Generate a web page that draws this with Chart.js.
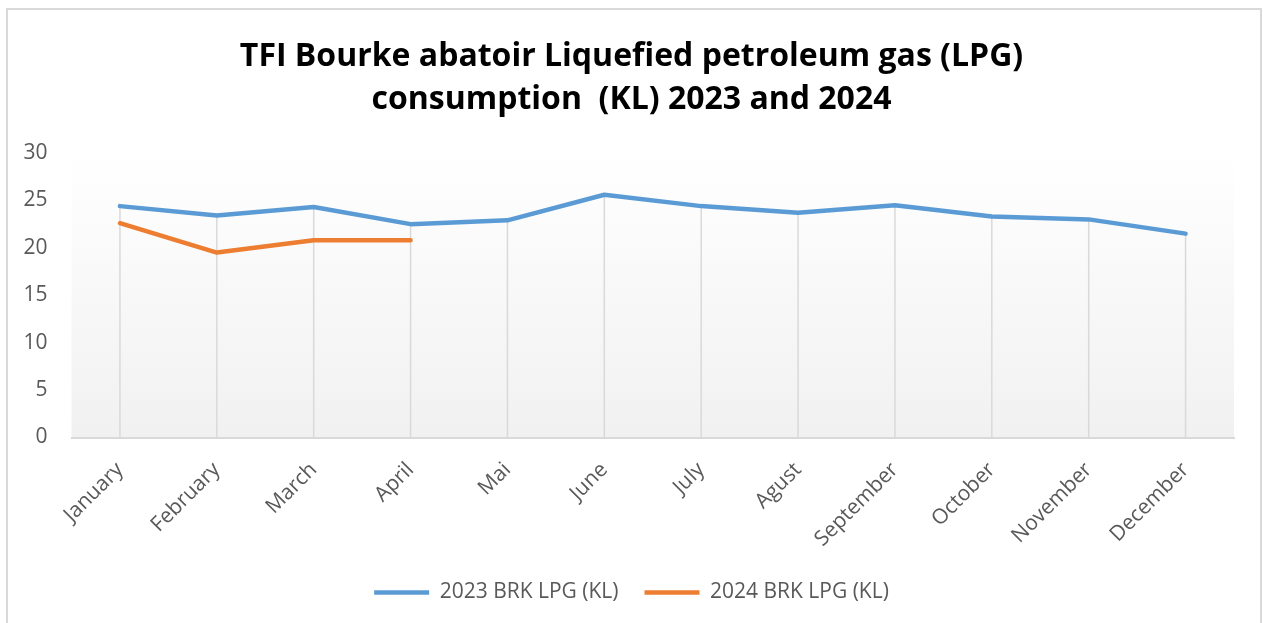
<!DOCTYPE html>
<html>
<head>
<meta charset="utf-8">
<script src="https://cdn.jsdelivr.net/npm/chart.js@4"></script>
<style>
  html, body { margin: 0; padding: 0; background: #fff; }
  #c { display: block; }
</style>
</head>
<body>
<canvas id="c" width="1263" height="623"></canvas>
<script>
const months = ['January','February','March','April','Mai','June','July','Agust','September','October','November','December'];
const lpg2023 = [24.4, 23.4, 24.3, 22.5, 22.9, 25.6, 24.4, 23.7, 24.5, 23.3, 23.0, 21.5];
const lpg2024 = [22.6, 19.5, 20.8, 20.8];
const yTicks = [0, 5, 10, 15, 20, 25, 30];
const titleLines = ['TFI Bourke abatoir Liquefied petroleum gas (LPG)', 'consumption  (KL) 2023 and 2024'];

const FONT = "'Open Sans', 'DejaVu Sans', sans-serif";

const bgPlugin = {
  id: 'bg',
  beforeDraw(chart) {
    const ctx = chart.ctx;
    ctx.save();
    ctx.fillStyle = '#ffffff';
    ctx.fillRect(0, 0, chart.width, chart.height);
    ctx.strokeStyle = '#d9d9d9';
    ctx.lineWidth = 2;
    ctx.strokeRect(7, 9, 1254, 640);
    const a = chart.chartArea;
    const g = ctx.createLinearGradient(0, a.top, 0, a.bottom);
    g.addColorStop(0, '#ffffff');
    g.addColorStop(1, '#f1f1f1');
    ctx.fillStyle = g;
    ctx.fillRect(a.left, a.top, a.right - a.left, a.bottom - a.top);
    ctx.restore();
  }
};

const dropLines = {
  id: 'dropLines',
  beforeDatasetsDraw(chart) {
    const ctx = chart.ctx;
    const xs = chart.scales.x, ys = chart.scales.y;
    ctx.save();
    ctx.strokeStyle = '#d9d9d9';
    ctx.lineWidth = 1.5;
    months.forEach((m, i) => {
      const vals = chart.data.datasets.map(d => d.data[i]).filter(v => v !== undefined && v !== null);
      if (!vals.length) return;
      const mx = Math.max(...vals);
      const x = xs.getPixelForValue(i);
      ctx.beginPath();
      ctx.moveTo(x, ys.getPixelForValue(mx));
      ctx.lineTo(x, ys.getPixelForValue(0));
      ctx.stroke();
    });
    ctx.restore();
  }
};

new Chart(document.getElementById('c'), {
  type: 'line',
  data: {
    labels: months,
    datasets: [
      { label: '2023 BRK LPG (KL)', data: lpg2023, borderColor: '#5b9bd5', backgroundColor: '#5b9bd5', borderWidth: 4.5, pointRadius: 0, tension: 0, borderCapStyle: 'round', borderJoinStyle: 'round' },
      { label: '2024 BRK LPG (KL)', data: lpg2024, borderColor: '#ed7d31', backgroundColor: '#ed7d31', borderWidth: 4.5, pointRadius: 0, tension: 0, borderCapStyle: 'round', borderJoinStyle: 'round' }
    ]
  },
  options: {
    responsive: false,
    animation: false,
    devicePixelRatio: 1,
    layout: { padding: { left: 0, right: 0, top: 0, bottom: 10 } },
    plugins: {
      title: {
        display: true,
        text: titleLines,
        color: '#000000',
        font: { family: FONT, size: 32, weight: 'bold', lineHeight: 1.344 },
        padding: { top: 35, bottom: 32 }
      },
      legend: {
        position: 'bottom',
        labels: {
          usePointStyle: true,
          pointStyle: 'line',
          pointStyleWidth: 55,
          color: '#595959',
          font: { family: FONT, size: 21 },
          padding: 26
        }
      },
      tooltip: { enabled: false }
    },
    scales: {
      x: {
        offset: true,
        grid: { display: false, offset: false },
        border: { display: true, color: '#d9d9d9', width: 2 },
        ticks: { color: '#595959', font: { family: FONT, size: 21 }, maxRotation: 45, minRotation: 45, padding: 12, autoSkip: false },
        afterFit(s) { s.height = 118.5; }
      },
      y: {
        min: 0, max: 30,
        afterBuildTicks(s) { s.ticks = yTicks.map(v => ({ value: v })); },
        grid: { display: false, drawTicks: false },
        border: { display: false },
        ticks: { color: '#595959', font: { family: FONT, size: 21 }, padding: 24 },
        afterFit(s) { s.width = 71.5; }
      },
      yRight: {
        type: 'linear',
        position: 'right',
        display: true,
        grid: { display: false, drawTicks: false },
        border: { display: false },
        ticks: { display: false },
        afterFit(s) { s.width = 29; }
      }
    }
  },
  plugins: [bgPlugin, dropLines]
});
</script>
</body>
</html>
